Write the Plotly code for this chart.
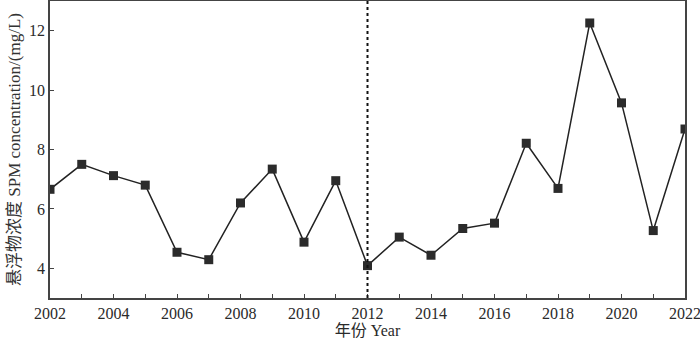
import plotly.graph_objects as go

years = list(range(2002, 2023))
spm = [6.66, 7.50, 7.12, 6.80, 4.54, 4.29, 6.20, 7.34, 4.88, 6.95, 4.09,
       5.05, 4.44, 5.34, 5.52, 8.21, 6.69, 12.26, 9.57, 5.27, 8.69]
x_ticks = list(range(2002, 2023, 2))
y_ticks = [4, 6, 8, 10, 12]
divider_year = 2012

FONT = "'Liberation Serif', 'Noto Sans CJK SC', serif"

fig = go.Figure()
fig.add_trace(go.Scatter(
    x=years, y=spm, mode="lines+markers",
    line=dict(color="#222222", width=1.5),
    marker=dict(symbol="square", size=9, color="#2b2b2b"),
    cliponaxis=True, showlegend=False,
))
fig.add_shape(type="line", xref="x", yref="paper", x0=divider_year, x1=divider_year,
              y0=0, y1=1, line=dict(color="#111111", width=2, dash="dot"))

axis_common = dict(showline=True, linecolor="#444444", linewidth=1.5, mirror=True,
                   showgrid=False, zeroline=False, ticks="inside", ticklen=4,
                   tickcolor="#444444", automargin=False, ticklabeloverflow="allow",
                   tickfont=dict(family=FONT, size=16, color="#2a2a2a"))
fig.update_layout(
    width=700, height=340,
    margin=dict(l=50, r=15, t=1, b=42),
    plot_bgcolor="white", paper_bgcolor="white",
    xaxis=dict(range=[2002, 2022], tickvals=x_ticks, ticktext=[str(v) for v in x_ticks],
               minor=dict(tickvals=years, ticks="inside", ticklen=4, tickcolor="#444444"),
               title=dict(text="年份 Year", font=dict(family=FONT, size=16, color="#2a2a2a"), standoff=0),
               **axis_common),
    yaxis=dict(range=[3, 13], tickvals=y_ticks,
               title=dict(text="悬浮物浓度 SPM concentration/(mg/L)",
                          font=dict(family=FONT, size=17, color="#333333"), standoff=4),
               **axis_common),
)
fig.write_html("out.html", config={"displayModeBar": False},
               post_script="document.body.style.margin='0';document.body.style.padding='0';")
